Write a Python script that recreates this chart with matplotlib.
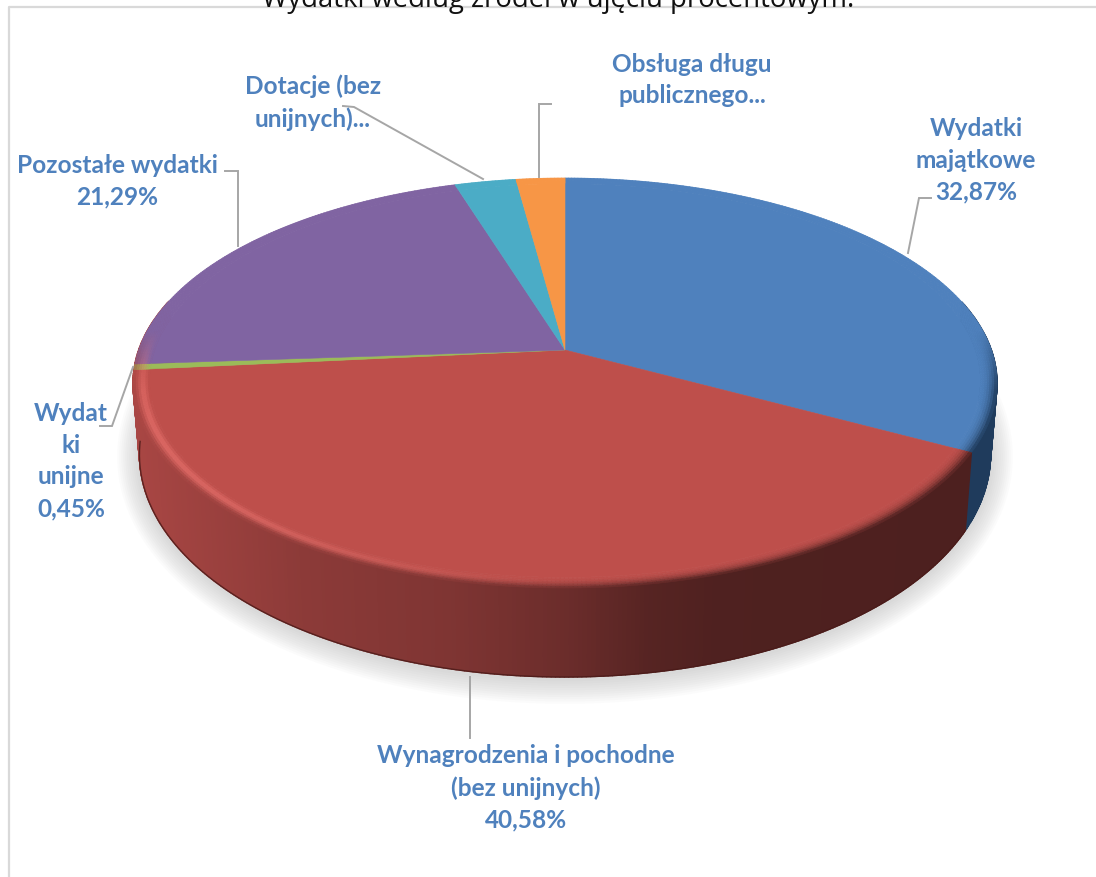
import numpy as np
import matplotlib
matplotlib.use("Agg")
import matplotlib.pyplot as plt
from matplotlib.collections import PolyCollection
from matplotlib.colors import to_rgb

title = "Wydatki według źródeł w ujęciu procentowym."
categories = ["Wydatki majątkowe", "Wynagrodzenia i pochodne (bez unijnych)", "Wydatki unijne",
              "Pozostałe wydatki", "Dotacje (bez unijnych)", "Obsługa długu publicznego"]
values = [32.87, 40.58, 0.45, 21.29, 2.68, 2.13]
colors = ["#4F81BD", "#BE4F4B", "#9BBB59", "#8064A2", "#4BACC6", "#F79646"]
side_colors = ["#1F3B5C", "#C0504D", "#C0504D", "#C0504D", "#4BACC6", "#F79646"]
label_texts = ["Wydatki\nmajątkowe\n32,87%", "Wynagrodzenia i pochodne\n(bez unijnych)\n40,58%",
               "Wydat\nki\nunijne\n0,45%", "Pozostałe wydatki\n21,29%",
               "Dotacje (bez\nunijnych)...", "Obsługa długu\npublicznego..."]
label_pos = [(976, 160), (526, 788), (71, 461), (117, 181), (313, 103), (692, 80)]
leaders = [[(908, 253), (919, 198), (931, 198)], [(470, 677), (470, 738)],
           [(133, 367), (112, 426), (100, 426)], [(238, 246), (238, 171), (225, 171)],
           [(483, 179), (354, 107), (343, 106)], [(539, 177), (539, 104), (551, 104)]]

W, H = 1096, 877
CX, CY, RX, RY, K = 565.0, 350.0, 426.4, 199.7, 0.161
BOTTOM_SCALE = 0.985
BLUE_LABEL = "#4F81BD"

fig = plt.figure(figsize=(W / 100, H / 100), dpi=100)
ax = fig.add_axes([0, 0, 1, 1])
ax.set_xlim(0, W)
ax.set_ylim(H, 0)
ax.axis("off")


def project(theta, r=1.0):
    u, v = r * np.sin(theta), r * np.cos(theta)
    w = 1 + K * v
    return CX + RX * u / w, CY - RY * v / w


def project_bottom(theta):
    x, y = project(theta)
    return CX + (x - CX) * BOTTOM_SCALE, y + 68 - 21 * np.cos(theta)


def mix(c, target, t):
    c = np.array(to_rgb(c))
    return tuple(c + (np.array(target) - c) * np.clip(t, 0, 1))


def side_shade(col, x, flat=False):
    if flat:
        return to_rgb(col)
    # darker from left to right across the visible wall, flat past the middle
    f = np.interp(x, [130, 300, 450, 565, 650, 720, 1000], [0.88, 0.73, 0.66, 0.56, 0.45, 0.41, 0.40])
    return tuple(np.array(to_rgb(col)) * f)


ax.plot([8.5, 8.5, W], [H, 7, 7], color="#D9D9D9", lw=1.6, zorder=0)

# soft shadow under the drum
tt = np.linspace(0, 2 * np.pi, 361)
bx, by = project_bottom(tt)
bcx, bcy = bx.mean(), (by.min() + by.max()) / 2
for d in np.arange(22, 0, -2):
    sx = 1 + d / 420
    sy = 1 + d / 200
    ax.fill(bcx + (bx - bcx) * sx, bcy + (by - bcy) * sy + 2, color="#808080", alpha=0.026, lw=0, zorder=1)

edges = np.radians(np.concatenate([[0], np.cumsum(values)]) / sum(values) * 360)

# side wall
polys, cols = [], []
for i, col in enumerate(side_colors):
    th = np.linspace(edges[i], edges[i + 1], max(3, int(np.degrees(edges[i + 1] - edges[i]) * 2)))
    for a, b in zip(th[:-1], th[1:]):
        if np.cos((a + b) / 2) > 0.25:
            continue
        x0, y0 = project(a)
        x1, y1 = project(b)
        x2, y2 = project_bottom(b)
        x3, y3 = project_bottom(a)
        polys.append([(x0, y0), (x1, y1), (x2, y2), (x3, y3)])
        cols.append(side_shade(col, (x0 + x1) / 2, flat=(i == 0)))
ax.add_collection(PolyCollection(polys, facecolors=cols, edgecolors=cols, linewidths=1.0, zorder=2))
front = np.radians(np.linspace(118.3, 264, 200))
fx, fy = project_bottom(front)
ax.plot(fx, fy, color="#4A1A18", lw=1.0, alpha=0.8, zorder=2.5)

# top face: flat wedges up to the rim, then a bevel on the near side only
RINGS = np.linspace(0.962, 1.0, 8)
for i, col in enumerate(colors):
    th = np.linspace(edges[i], edges[i + 1], max(3, int(np.degrees(edges[i + 1] - edges[i]) * 2)))
    x, y = project(th, RINGS[0])
    ax.fill(np.concatenate([[CX], x]), np.concatenate([[CY], y]), color=col, lw=0.4, zorder=3)
    polys, cols = [], []
    for r0, r1 in zip(RINGS[:-1], RINGS[1:]):
        t = ((r0 + r1) / 2 - RINGS[0]) / (RINGS[-1] - RINGS[0])
        for a, b in zip(th[:-1], th[1:]):
            xa0, ya0 = project(a, r0)
            xb0, yb0 = project(b, r0)
            xb1, yb1 = project(b, r1)
            xa1, ya1 = project(a, r1)
            polys.append([(xa0, ya0), (xb0, yb0), (xb1, yb1), (xa1, ya1)])
            m = (a + b) / 2
            near = np.clip((0.1 - np.cos(m)) / 0.3, 0, 1)
            glow = max(0.0, np.cos(1.5 * (m - np.radians(240)))) * near
            c = mix(col, (1.0, 0.5, 0.48), 0.62 * glow * np.sin(t * np.pi) ** 2)
            wall = side_shade(side_colors[i], (xa1 + xb1) / 2, flat=(i == 0))
            c = mix(c, wall, near * t ** 2.2)
            cols.append(c)
    ax.add_collection(PolyCollection(polys, facecolors=cols, edgecolors=cols, linewidths=0.5, zorder=4))

for pts in leaders:
    xs, ys = zip(*pts)
    ax.plot(xs, ys, color="#A6A6A6", lw=1.4, zorder=5, solid_joinstyle="miter")

for txt, (x, y) in zip(label_texts, label_pos):
    ax.text(x, y, txt, ha="center", va="center", family="Lato", weight="bold", fontsize=17.6,
            color=BLUE_LABEL, linespacing=1.46, zorder=6)

ax.text(558, 0, title, ha="center", va="center", family="Open Sans", fontsize=19.8, color="#111111", zorder=6)

fig.savefig("out.png", dpi=100, facecolor="white")
